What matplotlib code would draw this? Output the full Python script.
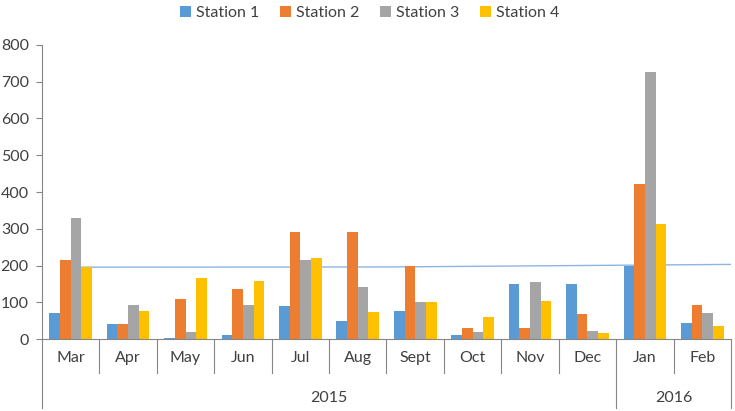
import matplotlib
matplotlib.use("Agg")
import matplotlib.pyplot as plt
import matplotlib.transforms as mtransforms
import numpy as np

plt.rcParams['font.family'] = ['Lato', 'DejaVu Sans']

months = ["Mar", "Apr", "May", "Jun", "Jul", "Aug", "Sept", "Oct", "Nov", "Dec", "Jan", "Feb"]
years = ["2015", "2016"]
year_spans = [(0, 9), (10, 11)]
series_names = ["Station 1", "Station 2", "Station 3", "Station 4"]
station1 = [72, 40, 4, 12, 91, 49, 76, 10, 151, 151, 199, 43]
station2 = [215, 40, 109, 135, 292, 292, 199, 29, 29, 69, 421, 92]
station3 = [328, 92, 20, 92, 215, 141, 101, 19, 156, 22, 727, 70]
station4 = [196, 77, 167, 158, 220, 74, 101, 59, 103, 15, 312, 35]
ref_line_x = [0, 5.5, 11.5]
ref_line_y = [195.5, 196, 203]
yticks = [0, 100, 200, 300, 400, 500, 600, 700, 800]

colors = ["#5B9BD5", "#ED7D31", "#A5A5A5", "#FFC000"]
axis_color = "#868686"
text_color = "#404040"
fs = 11.5

fig = plt.figure(figsize=(7.35, 4.11), dpi=100)
ax = fig.add_axes([42 / 735, (411 - 339) / 411, 689 / 735, (339 - 45) / 411])

x = np.arange(len(months))
w = 0.186
data = [station1, station2, station3, station4]
ax.plot(ref_line_x, ref_line_y, color="#8EB4E3", lw=1.0, zorder=1)
for i, (vals, c, name) in enumerate(zip(data, colors, series_names)):
    ax.bar(x + (i - 1.5) * w, vals, width=w, color=c, label=name, zorder=2)

ax.set_xlim(-0.5, len(months) - 0.5)
ax.set_ylim(0, 800)
ax.set_yticks(yticks)
ax.tick_params(axis='y', direction='out', length=4.5, width=0.8, color=axis_color,
               labelsize=fs, labelcolor=text_color, pad=5)
ax.set_xticks([])
for s in ["top", "right"]:
    ax.spines[s].set_visible(False)
for s in ["left", "bottom"]:
    ax.spines[s].set_color(axis_color)
    ax.spines[s].set_linewidth(0.8)

trans = mtransforms.blended_transform_factory(ax.transData, ax.transAxes)
year_bounds = {-0.5, len(months) - 0.5}
for a, b in year_spans:
    year_bounds.add(a - 0.5)
    year_bounds.add(b + 0.5)
for k in range(len(months) + 1):
    xb = k - 0.5
    if xb in year_bounds:
        y0 = -0.235
    else:
        y0 = -0.116
    ax.plot([xb, xb], [0, y0], transform=trans, color=axis_color, lw=0.8, clip_on=False)

for xi, m in zip(x, months):
    ax.text(xi, -0.065, m, transform=trans, ha='center', va='center', fontsize=fs, color=text_color)
for (a, b), yr in zip(year_spans, years):
    ax.text((a + b) / 2, -0.20, yr, transform=trans, ha='center', va='center', fontsize=fs, color=text_color)

fig.legend(*ax.get_legend_handles_labels(), loc='upper center', bbox_to_anchor=(0.503, 1.02),
           ncol=4, frameon=False, fontsize=fs, handlelength=0.7, handleheight=0.7,
           handletextpad=0.3, columnspacing=1.3, labelcolor=text_color)

fig.savefig("out.png", dpi=100)
